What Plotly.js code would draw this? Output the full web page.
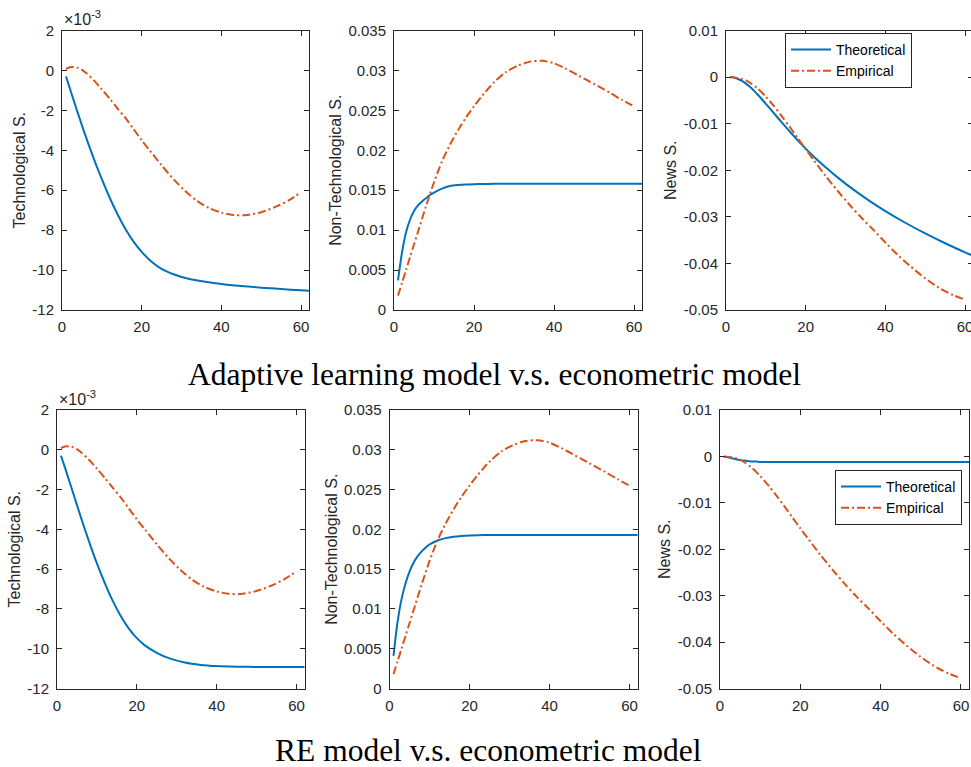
<!DOCTYPE html>
<html>
<head>
<meta charset="utf-8">
<script src="https://cdn.plot.ly/plotly-3.0.1.min.js"></script>
<style>
html,body{margin:0;padding:0;background:#fff;overflow:hidden;}
#chart{width:975px;height:767px;}
</style>
</head>
<body>
<div id="chart"></div>
<script>
// ---------------- data ----------------
const xTheo = [1,2,3,4,5,6,7,8,9,10,12,14,16,18,20,22,25,28,32,36,40,45,50,55,60,63];
const xEmp  = [1,2,3,4,5,6,8,10,12,14,16,18,20,22,25,28,31,34,37,40,43,46,50,54,57,60];

// Technological shock (values in units of 10^-3)
const techAL_theo = [-0.3,-0.92,-1.54,-2.15,-2.75,-3.33,-3.89,-4.43,-4.95,-5.45,-6.39,-7.23,-7.97,-8.59,-9.09,-9.49,-9.94,-10.21,-10.45,-10.59,-10.7,-10.8,-10.88,-10.95,-11.015,-11.05];
const techRE_theo = [-0.3,-0.9,-1.52,-2.15,-2.78,-3.4,-4.01,-4.6,-5.17,-5.71,-6.71,-7.61,-8.37,-8.99,-9.47,-9.83,-10.205,-10.475,-10.695,-10.815,-10.875,-10.905,-10.915,-10.915,-10.915,-10.915];
const tech_emp    = [0.08,0.16,0.17,0.13,0.03,-0.12,-0.5,-0.95,-1.42,-1.92,-2.4,-2.95,-3.5,-4.0,-4.75,-5.45,-6.05,-6.55,-6.9,-7.12,-7.24,-7.25,-7.1,-6.8,-6.5,-6.1];

// Non-technological shock
const nonTechAL_theo = [0.0037,0.0072,0.0097,0.0113,0.0124,0.0131,0.0136,0.014,0.0144,0.0147,0.0152,0.01552,0.01565,0.01572,0.01576,0.01578,0.0158,0.0158,0.0158,0.0158,0.0158,0.0158,0.0158,0.0158,0.0158,0.0158];
const nonTechRE_theo = [0.0041,0.0083,0.0112,0.0132,0.0147,0.0158,0.0166,0.0172,0.0177,0.0181,0.0186,0.0189,0.01908,0.01918,0.01924,0.01927,0.01929,0.0193,0.0193,0.0193,0.0193,0.0193,0.0193,0.0193,0.0193,0.0193];
const nonTech_emp    = [0.0018,0.0034,0.005,0.0066,0.0082,0.0098,0.013,0.016,0.0186,0.0207,0.0225,0.0241,0.0255,0.0268,0.0285,0.0298,0.0306,0.0311,0.0312,0.0309,0.0302,0.0294,0.0283,0.0272,0.0263,0.0255];

// News shock
const newsAL_theo = [0,-0.0001,-0.0004,-0.0008,-0.0014,-0.0021,-0.0029,-0.0038,-0.00475,-0.00573,-0.00773,-0.00973,-0.01169,-0.01357,-0.01535,-0.01703,-0.01937,-0.02153,-0.02417,-0.02657,-0.02877,-0.03127,-0.03357,-0.03567,-0.03762,-0.03873];
const newsRE_theo = [0,-0.0002,-0.0004,-0.0006,-0.0008,-0.0009,-0.001,-0.0011,-0.0011,-0.0012,-0.0012,-0.0012,-0.0012,-0.0012,-0.0012,-0.0012,-0.0012,-0.0012,-0.0012,-0.0012,-0.0012,-0.0012,-0.0012,-0.0012,-0.0012,-0.0012];
const news_emp    = [0,-0.0001,-0.0002,-0.0004,-0.0007,-0.0012,-0.0025,-0.0042,-0.0062,-0.0084,-0.0107,-0.0131,-0.0155,-0.0178,-0.0212,-0.0244,-0.0274,-0.0302,-0.0328,-0.0355,-0.0381,-0.0404,-0.0432,-0.0455,-0.0468,-0.0478];

// tick labels
const xTicks = [0,20,40,60];
const techTicks = [-12,-10,-8,-6,-4,-2,0,2];
const nonTechTicks = [0,0.005,0.01,0.015,0.02,0.025,0.03,0.035];
const newsTicks = [-0.05,-0.04,-0.03,-0.02,-0.01,0,0.01];

const seriesNames = ['Theoretical','Empirical'];
const yTitles = ['Technological S.','Non-Technological S.','News S.'];
const panelTitles = ['Adaptive learning model v.s. econometric model','RE model v.s. econometric model'];
const expLabel = '\u00d710<sup>-3</sup>';

// ---------------- layout helpers ----------------
const W = 975, H = 767;
const BLUE = '#0072BD', RED = '#D95319', INK = '#262626';
const FONT = 'Liberation Sans, Arial, Helvetica, sans-serif';
const SERIF = 'Liberation Serif, Times New Roman, serif';

// pixel boxes [left, right, top, bottom]
const boxes = [
  [62, 309, 30.5, 310],
  [394, 642, 30.5, 310],
  [726, 973, 30.5, 310],
  [57, 304.5, 410, 688.5],
  [389.5, 637.5, 410, 688.5],
  [720, 969, 410, 688.5]
];

function xdom(b){ return [b[0]/W, b[1]/W]; }
function ydom(b){ return [1 - b[3]/H, 1 - b[2]/H]; }

const yRanges = [[-12,2],[0,0.035],[-0.05,0.01]];
const yTickSets = [techTicks, nonTechTicks, newsTicks];
const standoffs = [2, 2, 3];

const theo = [techAL_theo, nonTechAL_theo, newsAL_theo, techRE_theo, nonTechRE_theo, newsRE_theo];
const emp  = [tech_emp, nonTech_emp, news_emp, tech_emp, nonTech_emp, news_emp];

const legendStyle = {
  xanchor: 'left', yanchor: 'top',
  bgcolor: '#fff', bordercolor: INK, borderwidth: 1,
  font: {family: FONT, size: 14, color: '#000'},
  itemwidth: 40, tracegroupgap: 0
};

const data = [];
const layout = {
  width: W, height: H,
  margin: {l:0, r:0, t:0, b:0},
  paper_bgcolor: '#fff', plot_bgcolor: '#fff',
  font: {family: FONT, color: INK},
  showlegend: true,
  annotations: [],
  legend: Object.assign({x: 785/W, y: 1 - 33/H}, legendStyle),
  legend2: Object.assign({x: 835/W, y: 1 - 470/H}, legendStyle)
};

for (let i = 0; i < 6; i++) {
  const k = i + 1;
  const xa = k === 1 ? 'x' : 'x' + k;
  const ya = k === 1 ? 'y' : 'y' + k;
  const col = i % 3;
  const showLeg = (col === 2);
  const legName = i < 3 ? 'legend' : 'legend2';

  data.push({
    x: xTheo, y: theo[i], xaxis: xa, yaxis: ya, type: 'scatter', mode: 'lines',
    name: seriesNames[0], showlegend: showLeg, legend: legName,
    line: {color: BLUE, width: 2, shape: 'spline', smoothing: 0.8}
  });
  data.push({
    x: xEmp, y: emp[i], xaxis: xa, yaxis: ya, type: 'scatter', mode: 'lines',
    name: seriesNames[1], showlegend: showLeg, legend: legName,
    line: {color: RED, width: 2, shape: 'spline', smoothing: 0.8, dash: '8px,3px,2px,3px'}
  });

  const common = {
    showline: true, mirror: 'ticks', linecolor: INK, linewidth: 1,
    ticks: 'inside', ticklen: 5, tickwidth: 1, tickcolor: INK,
    showgrid: false, zeroline: false, fixedrange: true,
    tickfont: {family: FONT, size: 15, color: INK}
  };
  layout[k === 1 ? 'xaxis' : 'xaxis' + k] = Object.assign({}, common, {
    domain: xdom(boxes[i]), anchor: ya, range: [0, 62],
    tickmode: 'array', tickvals: xTicks, ticktext: xTicks.map(String),
    ticklabelstandoff: 3
  });
  const ticks = yTickSets[col];
  layout[k === 1 ? 'yaxis' : 'yaxis' + k] = Object.assign({}, common, {
    domain: ydom(boxes[i]), anchor: xa, range: yRanges[col],
    tickmode: 'array', tickvals: ticks, ticktext: ticks.map(String),
    ticklabelstandoff: 4,
    title: {text: yTitles[col], font: {family: FONT, size: 16, color: INK}, standoff: standoffs[col]}
  });

  if (col === 0) {
    layout.annotations.push({
      xref: 'paper', yref: 'paper',
      x: boxes[i][0]/W, y: 1 - (boxes[i][2] - 0.5)/H,
      xanchor: 'left', yanchor: 'bottom', showarrow: false,
      text: expLabel, font: {family: FONT, size: 16, color: INK}
    });
  }
}

layout.annotations.push({
  xref: 'paper', yref: 'paper', x: 494/W, y: 1 - 374/H,
  xanchor: 'center', yanchor: 'middle', showarrow: false,
  text: panelTitles[0], font: {family: SERIF, size: 31.5, color: '#000'}
});
layout.annotations.push({
  xref: 'paper', yref: 'paper', x: 488/W, y: 1 - 750/H,
  xanchor: 'center', yanchor: 'middle', showarrow: false,
  text: panelTitles[1], font: {family: SERIF, size: 31.5, color: '#000'}
});

Plotly.newPlot('chart', data, layout, {staticPlot: true, displayModeBar: false});
</script>
</body>
</html>
